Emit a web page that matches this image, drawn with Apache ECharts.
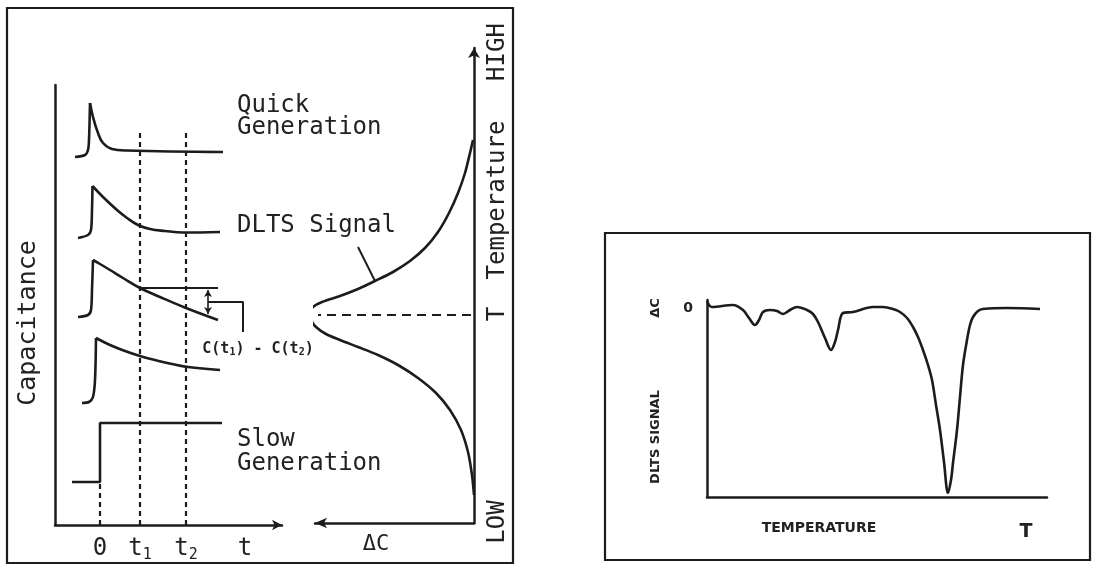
<!DOCTYPE html>
<html>
<head>
<meta charset="UTF-8">
<title>DLTS</title>
<script src="https://cdn.jsdelivr.net/npm/echarts@6/dist/echarts.min.js"></script>
<style>
html, body { margin: 0; padding: 0; background: #fff; }
#main { width: 1093px; height: 565px; }
</style>
</head>
<body>
<div id="main"></div>
<script>
// capacitance transients: [time, capacitance]; the peak index splits the rise from the decay
var quickGen = [[-2.5, 36.8], [-1.5, 37.0], [-1.2, 37.5], [-1.1, 38.5], [-1.0, 42.2], [-0.7, 40.8], [-0.2, 39.2], [0.3, 38.2], [1.2, 37.6], [2.7, 37.45], [12.3, 37.3]];
var transient2 = [[-2.2, 28.7], [-1.2, 29.0], [-0.9, 29.5], [-0.8, 31.5], [-0.75, 33.9], [0.3, 32.8], [1.7, 31.5], [2.7, 30.7], [3.8, 30.0], [5.0, 29.6], [6.5, 29.4], [8.3, 29.25], [12.0, 29.3]];
var transient3 = [[-2.2, 20.8], [-1.2, 21.0], [-0.9, 21.5], [-0.8, 23.5], [-0.7, 26.5], [0, 26.1], [1.0, 25.5], [2.3, 24.7], [4.0, 23.7], [6.0, 22.8], [8.6, 21.7], [11.8, 20.5]];
var transient4 = [[-1.8, 12.2], [-1.1, 12.3], [-0.7, 12.8], [-0.5, 14.5], [-0.4, 18.7], [1.0, 18.0], [2.5, 17.4], [4.0, 16.9], [5.5, 16.5], [7.2, 16.1], [8.8, 15.8], [12.0, 15.5]];
var peakIndex = 4;
var slowGen = [[-2.8, 4.3], [0, 4.3], [0, 10.2], [12.2, 10.2]];

var zeroMark = [[0, 0], [0, 4.3]];
var t1Mark = [[4, 0], [4, 39.5]];
var t2Mark = [[8.6, 0], [8.6, 39.5]];
var levelT1 = [[4, 23.7], [11.8, 23.7]];
var diffArrow = [[10.8, 23.5], [10.8, 21.1]];
var diffBracket = [[10.8, 22.3], [14.3, 22.3], [14.3, 19.3]];

var timeTicks = [0, 4, 8.6, 14.5];
var timeTickLabels = ['{m|0}', '{m|t}{s|1}', '{m|t}{s|2}', '{m|t}'];

// DLTS signal vs temperature: [deltaC, temperature]
var dltsCurve = [[0.1, 38.3], [0.4, 37.0], [0.9, 35.0], [1.6, 33.0], [2.5, 31.0], [3.6, 29.1], [4.9, 27.5], [6.4, 26.2], [8.1, 25.1], [9.9, 24.2], [11.6, 23.4], [13.4, 22.7], [15.2, 22.1], [16.1, 21.6], [16.5, 21.0], [16.3, 20.3], [15.8, 19.6], [14.8, 18.9], [13.4, 18.3], [11.6, 17.6], [9.6, 16.8], [7.6, 15.8], [5.6, 14.5], [3.8, 13.0], [2.4, 11.3], [1.3, 9.3], [0.6, 7.1], [0.2, 4.8], [0.0, 2.8]];
var peakDash = [[0.3, 20.8], [15.6, 20.8]];
var leader = [[11.6, 27.6], [9.9, 24.2]];

// measured spectrum: [temperature, deltaC]
var spectrum = [[0, 0.7], [0.5, 0.1], [2.6, 0.3], [3.6, -0.2], [4.2, -1.0], [4.8, -1.7], [5.2, -1.2], [5.6, -0.4], [6.3, -0.2], [7.0, -0.3], [7.6, -0.6], [8.3, -0.2], [9.0, 0.1], [10.0, -0.2], [10.6, -0.6], [11.1, -1.4], [11.8, -3.0], [12.4, -4.2], [12.8, -3.4], [13.1, -2.2], [13.6, -0.5], [14.6, -0.4], [16.6, 0.1], [17.6, 0.1], [18.6, -0.1], [19.3, -0.4], [20.0, -1.0], [20.6, -1.9], [21.1, -2.9], [21.6, -4.2], [22.1, -5.7], [22.5, -7.2], [22.9, -9.7], [23.3, -12.2], [23.7, -15.4], [24.1, -18.5], [24.4, -17.2], [24.6, -15.5], [25.0, -12.2], [25.3, -8.9], [25.6, -5.7], [26.0, -3.2], [26.3, -1.7], [26.6, -0.9], [27.1, -0.3], [27.6, -0.1], [30.0, 0], [33.3, -0.1]];

var ink = '#1c1c1c';
var mono = '"DejaVu Sans Mono", monospace';

function pen(name, data, xi, extra) {
	var s = {
		name: name,
		type: 'line',
		xAxisIndex: xi,
		yAxisIndex: xi,
		data: data,
		symbol: 'none',
		clip: false,
		silent: true,
		lineStyle: { color: ink, width: 2.6 }
	};
	for (var k in extra) s[k] = extra[k];
	return s;
}

// rise and decay drawn separately so the peak keeps its corner
function transient(name, data) {
	return [
		pen(name + 'Rise', data.slice(0, peakIndex + 1), 0, { smooth: 0.3 }),
		pen(name + 'Decay', data.slice(peakIndex), 0, { smooth: 0.4 })
	];
}

var dashed = { color: ink, width: 2.2, type: [5, 4] };

var series = [].concat(
	transient('quick', quickGen),
	transient('t2', transient2),
	transient('t3', transient3),
	transient('t4', transient4),
	[
		pen('slow', slowGen, 0),
		pen('zero', zeroMark, 0, { lineStyle: dashed }),
		pen('t1mark', t1Mark, 0, { lineStyle: dashed }),
		pen('t2mark', t2Mark, 0, { lineStyle: dashed }),
		pen('levelT1', levelT1, 0, { lineStyle: { color: ink, width: 2 } }),
		pen('diff', diffArrow, 0, {
			symbol: 'arrow', symbolSize: [6, 7], showSymbol: true,
			itemStyle: { color: ink },
			data: [{ value: diffArrow[0], symbolRotate: 0 }, { value: diffArrow[1], symbolRotate: 180 }],
			lineStyle: { color: ink, width: 1.6 }
		}),
		pen('bracket', diffBracket, 0, { lineStyle: { color: ink, width: 2 } }),
		pen('dlts', dltsCurve, 1, { smooth: 0.3 }),
		pen('peak', peakDash, 1, { lineStyle: { color: ink, width: 2.2, type: [9, 6] } }),
		pen('leader', leader, 1, { lineStyle: { color: ink, width: 2 } }),
		pen('spectrum', spectrum, 2, { smooth: 0.35 })
	]
);

var chart = echarts.init(document.getElementById('main'));
var option = {
	animation: false,
	backgroundColor: '#fff',
	grid: [
		{ left: 55, top: 85, width: 227, height: 440 },
		{ left: 315, top: 48, width: 159, height: 475 },
		{ left: 707, top: 300, width: 340, height: 197 }
	],
	xAxis: [
		{
			gridIndex: 0, type: 'value', min: -4.5, max: 18.2,
			axisLine: { onZero: false, symbol: ['none', 'arrow'], symbolSize: [8, 10], lineStyle: { color: ink, width: 2.5 } },
			axisTick: { show: false }, splitLine: { show: false },
			axisLabel: {
				customValues: timeTicks, margin: 10, color: '#222',
				formatter: function (v) { return timeTickLabels[timeTicks.indexOf(v)]; },
				rich: {
					m: { fontFamily: mono, fontSize: 24, color: '#222', lineHeight: 28 },
					s: { fontFamily: mono, fontSize: 15, color: '#222', lineHeight: 28, padding: [12, 0, 0, 0] }
				}
			}
		},
		{
			gridIndex: 1, type: 'value', min: 0, max: 15.9, inverse: true,
			axisLine: { onZero: false, symbol: ['arrow', 'none'], symbolSize: [8, 12], lineStyle: { color: ink, width: 2.5 } },
			axisTick: { show: false }, splitLine: { show: false }, axisLabel: { show: false }
		},
		{
			gridIndex: 2, type: 'value', min: 0, max: 34,
			axisLine: { onZero: false, lineStyle: { color: ink, width: 2.5 } },
			axisTick: { show: false }, splitLine: { show: false }, axisLabel: { show: false }
		}
	],
	yAxis: [
		{
			gridIndex: 0, type: 'value', min: 0, max: 44,
			axisLine: { show: true, onZero: false, lineStyle: { color: ink, width: 2.5 } },
			axisTick: { show: false }, splitLine: { show: false }, axisLabel: { show: false }
		},
		{
			gridIndex: 1, type: 'value', min: 0, max: 47.5, position: 'right',
			axisLine: { show: true, onZero: false, symbol: ['none', 'arrow'], symbolSize: [9, 10], lineStyle: { color: ink, width: 2.5 } },
			axisTick: { show: false }, splitLine: { show: false }, axisLabel: { show: false }
		},
		{
			gridIndex: 2, type: 'value', min: -18.9, max: 0.8,
			axisLine: { show: true, onZero: false, lineStyle: { color: ink, width: 2.5 } },
			axisTick: { show: false }, splitLine: { show: false },
			axisLabel: { customValues: [0], margin: 14, color: '#222', fontFamily: 'DejaVu Sans', fontWeight: 'bold', fontSize: 14 }
		}
	],
	series: series,
	graphic: [
		{ type: 'rect', shape: { x: 7, y: 8, width: 506, height: 555 }, style: { fill: 'none', stroke: ink, lineWidth: 2.2 } },
		{ type: 'rect', shape: { x: 605, y: 233, width: 485, height: 327 }, style: { fill: 'none', stroke: ink, lineWidth: 2.2 } },
		{ type: 'text', x: 237, y: 95, style: { text: 'Quick\nGeneration', font: '24px ' + mono, fill: '#222', lineHeight: 22 } },
		{ type: 'text', x: 237, y: 214, style: { text: 'DLTS Signal', font: '24px ' + mono, fill: '#222' } },
		{ type: 'text', x: 237, y: 428, style: { text: 'Slow\nGeneration', font: '24px ' + mono, fill: '#222', lineHeight: 24 } },
		{ type: 'text', x: 28, y: 323, rotation: Math.PI / 2, style: { text: 'Capacitance', font: '25px ' + mono, fill: '#222', textAlign: 'center', textVerticalAlign: 'middle' } },
		{
			type: 'text', x: 258, y: 349,
			style: {
				text: '{m|C(t}{s|1}{m|) - C(t}{s|2}{m|)}', textAlign: 'center', textVerticalAlign: 'middle',
				rich: {
					m: { font: 'bold 15px ' + mono, fill: '#222', lineHeight: 18 },
					s: { font: 'bold 10px ' + mono, fill: '#222', lineHeight: 18, padding: [6, 0, 0, 0] }
				}
			}
		},
		{ type: 'text', x: 376, y: 544, style: { text: 'ΔC', font: '22px ' + mono, fill: '#222', textAlign: 'center', textVerticalAlign: 'middle' } },
		{ type: 'text', x: 498, y: 52, rotation: Math.PI / 2, style: { text: 'HIGH', font: '24px ' + mono, fill: '#222', textAlign: 'center', textVerticalAlign: 'middle' } },
		{ type: 'text', x: 498, y: 200, rotation: Math.PI / 2, style: { text: 'Temperature', font: '24px ' + mono, fill: '#222', textAlign: 'center', textVerticalAlign: 'middle' } },
		{ type: 'text', x: 498, y: 314, rotation: Math.PI / 2, style: { text: 'T', font: '24px ' + mono, fill: '#222', textAlign: 'center', textVerticalAlign: 'middle' } },
		{ type: 'text', x: 498, y: 522, rotation: Math.PI / 2, style: { text: 'LOW', font: '24px ' + mono, fill: '#222', textAlign: 'center', textVerticalAlign: 'middle' } },
		{ type: 'text', x: 656, y: 308, rotation: Math.PI / 2, style: { text: 'ΔC', font: 'bold 13px "DejaVu Sans"', fill: '#222', textAlign: 'center', textVerticalAlign: 'middle' } },
		{ type: 'text', x: 656, y: 437, rotation: Math.PI / 2, style: { text: 'DLTS SIGNAL', font: 'bold 13px "DejaVu Sans"', fill: '#222', textAlign: 'center', textVerticalAlign: 'middle' } },
		{ type: 'text', x: 819, y: 528, style: { text: 'TEMPERATURE', font: 'bold 14px "DejaVu Sans"', fill: '#222', textAlign: 'center', textVerticalAlign: 'middle' } },
		{ type: 'text', x: 1026, y: 532, style: { text: 'T', font: 'bold 19px "DejaVu Sans"', fill: '#222', textAlign: 'center', textVerticalAlign: 'middle' } }
	]
};
chart.setOption(option);
</script>
</body>
</html>
